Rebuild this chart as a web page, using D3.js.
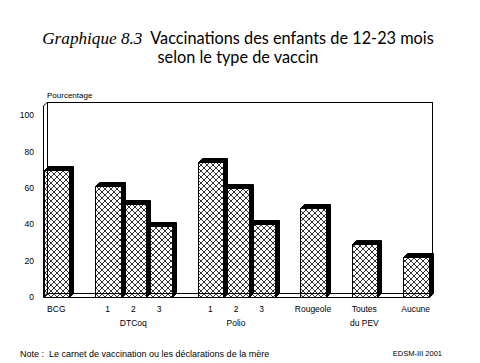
<!DOCTYPE html>
<html>
<head>
<meta charset="utf-8">
<script src="https://cdn.jsdelivr.net/npm/d3@7"></script>
<style>
  body { margin: 0; background: #fff; }
  svg { display: block; }
  text { fill: #000; }
</style>
</head>
<body>
<div id="chart"></div>
<script>
// data
var categories = ["BCG", "DTCoq 1", "DTCoq 2", "DTCoq 3", "Polio 1", "Polio 2", "Polio 3", "Rougeole", "Toutes du PEV", "Aucune"];
var groups = ["BCG", "DTCoq", "DTCoq", "DTCoq", "Polio", "Polio", "Polio", "Rougeole", "Toutes", "Aucune"];
var values = [70, 61, 51, 39, 74, 60, 40, 49, 29, 22];
var tickLabels = [["BCG"], ["1"], ["2"], ["3"], ["1"], ["2"], ["3"], ["Rougeole"], ["Toutes", "du PEV"], ["Aucune"]];
var groupLabels = ["DTCoq", "Polio"];
var yTicks = [0, 20, 40, 60, 80, 100];

var width = 480, height = 363,
    depth = 4,
    wallTop = 102;

var svg = d3.select("#chart").append("svg")
  .attr("width", width)
  .attr("height", height);

// crosshatch
svg.append("defs").append("pattern")
  .attr("id", "hatch")
  .attr("patternUnits", "userSpaceOnUse")
  .attr("width", 6).attr("height", 6)
  .append("path")
  .attr("d", "M0,0L6,6M6,0L0,6")
  .attr("stroke", "#000")
  .attr("stroke-width", 0.8);

// band domain: one empty slot between groups
var domain = [];
categories.forEach(function(c, i) {
  if (i > 0 && groups[i] != groups[i - 1]) domain.push("gap" + i);
  domain.push(c);
});

var x = d3.scaleBand().domain(domain).range([43.5, 428.5]).padding(0);
var y = d3.scaleLinear().domain([0, 100]).range([297, 115]);

var x0 = x.range()[0], x1 = x.range()[1], floor = y(0);

// back wall, left wall, floor
svg.append("rect")
  .attr("x", x0 + depth).attr("y", wallTop + 0.5)
  .attr("width", x1 - x0).attr("height", floor - depth - wallTop)
  .attr("fill", "#fff").attr("stroke", "#000");

svg.append("path")
  .attr("d", "M" + x0 + "," + (wallTop + depth) + "L" + (x0 + depth) + "," + wallTop +
    "L" + (x0 + depth) + "," + (floor - depth) + "L" + x0 + "," + floor + "Z")
  .attr("fill", "#fff").attr("stroke", "#000");

svg.append("path")
  .attr("d", "M" + x0 + "," + (floor + 0.5) + "L" + (x0 + depth) + "," + (floor - depth + 0.5) +
    "L" + (x1 + depth) + "," + (floor - depth + 0.5) + "L" + x1 + "," + (floor + 0.5) + "Z")
  .attr("fill", "#fff").attr("stroke", "#000");

// bars, left to right so each front covers the previous side
var bars = svg.selectAll(".bar")
  .data(categories)
  .enter().append("g")
  .attr("class", "bar");

bars.append("path")
  .attr("d", function(d, i) {
    var a = Math.round(x(d)) + 0.5, b = Math.round(x(d) + x.bandwidth()) + 0.5,
        t = Math.round(y(values[i])) + 0.5, f = floor + 0.5;
    return "M" + a + "," + t + "L" + (a + depth) + "," + (t - depth) + "L" + (b + depth) + "," + (t - depth) +
      "L" + (b + depth) + "," + (f - depth) + "L" + b + "," + f + "L" + b + "," + t + "Z";
  })
  .attr("fill", "#000").attr("stroke", "#000");

bars.append("rect")
  .attr("x", function(d) { return Math.round(x(d)) + 0.5; })
  .attr("y", function(d, i) { return Math.round(y(values[i])) + 0.5; })
  .attr("width", function(d) { return Math.round(x(d) + x.bandwidth()) - Math.round(x(d)); })
  .attr("height", function(d, i) { return floor - Math.round(y(values[i])); })
  .attr("fill", "url(#hatch)")
  .attr("stroke", "#000");

// y axis labels only
var yAxis = svg.append("g")
  .attr("transform", "translate(37,0)")
  .call(d3.axisLeft(y).tickValues(yTicks).tickSize(0).tickPadding(3));
yAxis.select(".domain").remove();
yAxis.selectAll("text")
  .attr("font-family", "Liberation Sans, Arial, sans-serif")
  .attr("font-size", "8.5px");

svg.append("text")
  .attr("x", 47).attr("y", 97.5)
  .attr("font-family", "Liberation Sans, Arial, sans-serif")
  .attr("font-size", "8px")
  .text("Pourcentage");

// category labels
var lab = svg.selectAll(".lab")
  .data(categories)
  .enter().append("text")
  .attr("class", "lab")
  .attr("text-anchor", "middle")
  .attr("font-family", "Liberation Sans, Arial, sans-serif")
  .attr("font-size", "8.5px");
lab.selectAll("tspan")
  .data(function(d, i) { return tickLabels[i].map(function(t) { return { t: t, c: d }; }); })
  .enter().append("tspan")
  .attr("x", function(d) { return x(d.c) + x.bandwidth() / 2; })
  .attr("y", function(d, j) { return 312 + j * 14; })
  .text(function(d) { return d.t; });

svg.selectAll(".grp")
  .data(groupLabels)
  .enter().append("text")
  .attr("class", "grp")
  .attr("text-anchor", "middle")
  .attr("font-family", "Liberation Sans, Arial, sans-serif")
  .attr("font-size", "8.5px")
  .attr("x", function(g) {
    var idx = groups.map(function(v, i) { return v == g ? i : -1; }).filter(function(i) { return i >= 0; });
    var a = x(categories[idx[0]]), b = x(categories[idx[idx.length - 1]]) + x.bandwidth();
    return (a + b) / 2;
  })
  .attr("y", 326)
  .text(function(g) { return g; });

// title
var title = svg.append("text")
  .attr("x", 238).attr("y", 44)
  .attr("text-anchor", "middle")
  .attr("font-size", "16.3px");
title.append("tspan")
  .attr("font-family", "Liberation Serif, serif")
  .attr("font-style", "italic")
  .attr("font-size", "17.2px")
  .text("Graphique 8.3");
title.append("tspan")
  .attr("font-family", "Lato, sans-serif")
  .text("\u00a0\u00a0Vaccinations des enfants de 12-23 mois");

svg.append("text")
  .attr("x", 238).attr("y", 63)
  .attr("text-anchor", "middle")
  .attr("font-family", "Lato, sans-serif")
  .attr("font-size", "16.3px")
  .text("selon le type de vaccin");

// notes
svg.append("text")
  .attr("x", 20).attr("y", 356.5)
  .attr("font-family", "Liberation Sans, Arial, sans-serif")
  .attr("font-size", "9px")
  .attr("xml:space", "preserve")
  .text("Note :  Le carnet de vaccination ou les déclarations de la mère");

svg.append("text")
  .attr("x", 442).attr("y", 356)
  .attr("text-anchor", "end")
  .attr("font-family", "Liberation Sans, Arial, sans-serif")
  .attr("font-size", "7.5px")
  .text("EDSM-III 2001");
</script>
</body>
</html>
